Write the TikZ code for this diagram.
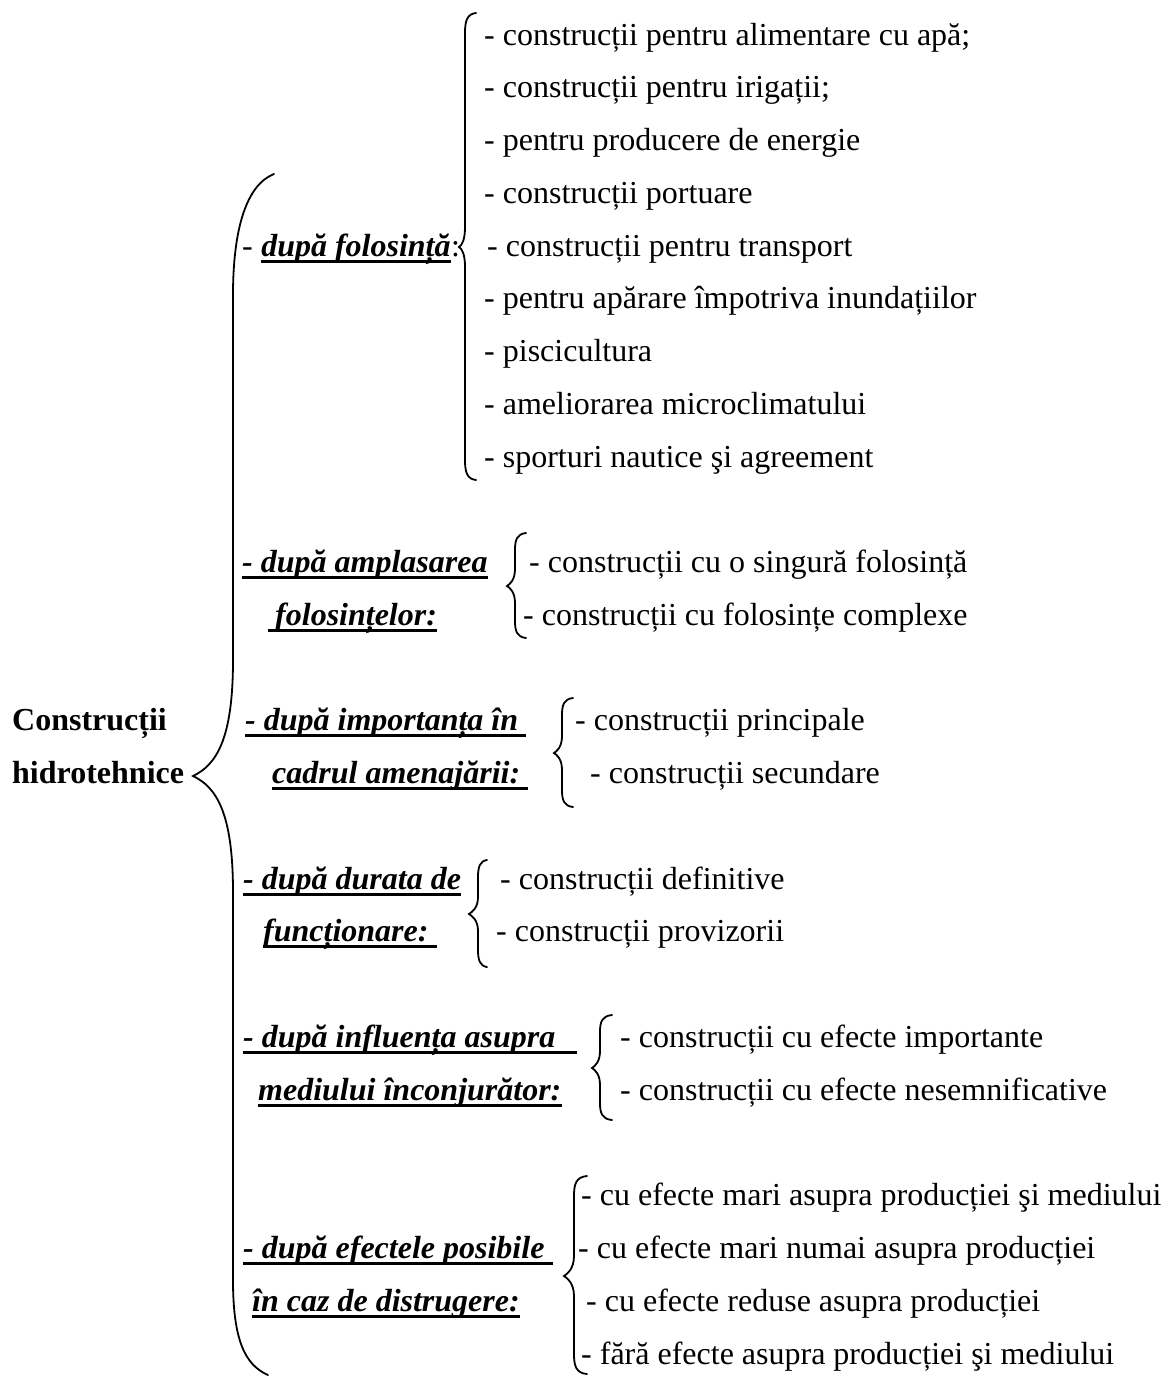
\documentclass[tikz,border=0pt]{standalone}
\usepackage{fontspec}
\setmainfont{Liberation Serif}
\newcommand\drawbrace[7]{% xv, xtip, xend, ytop, ymid, ybot, r
 \draw[brc] ({#3},{#4}) .. controls ({#1+2},{#4+1}) and ({#1},{#4+0.4*#7}) .. ({#1},{#4+#7})
   -- ({#1},{#5-#7}) .. controls ({#1},{#5-0.35*#7}) and ({#2+3},{#5-2}) .. ({#2},{#5})
   .. controls ({#2+3},{#5+2}) and ({#1},{#5+0.35*#7}) .. ({#1},{#5+#7})
   -- ({#1},{#6-#7}) .. controls ({#1},{#6-0.4*#7}) and ({#1+2},{#6-1}) .. ({#3},{#6});}
\newcommand\ulnode[1]{\draw[ul] ([yshift=-5pt]#1.base west) -- ([yshift=-5pt]#1.base east);}
\begin{document}
\begin{tikzpicture}[x=1pt,y=-1pt,
  txt/.style={anchor=base west,inner sep=0pt,font=\fontsize{32}{38}\selectfont},
  lab/.style={anchor=base west,inner sep=0pt,font=\fontsize{32}{38}\selectfont\bfseries\itshape},
  ttl/.style={anchor=base west,inner sep=0pt,font=\fontsize{32}{38}\selectfont\bfseries},
  brc/.style={line width=1.8pt,line cap=round},
  ul/.style={line width=3pt}]
\fill[white] (0,0) rectangle (1171,1376);
\useasboundingbox (0,0) rectangle (1171,1376);

% title
\node[ttl] (t1) at (12,730.9) {Construcții};
\node[ttl] (t2) at (12,783.6) {hidrotehnice};

% big brace
\draw[brc] (274,174) .. controls (246,185) and (233,230) .. (233,295)
  -- (233,660) .. controls (233,740) and (216,765) .. (193,776)
  .. controls (216,787) and (233,812) .. (233,892)
  -- (233,1280) .. controls (233,1340) and (245,1365) .. (268,1375);

% section 1
\node[txt] (l1d) at (242,256) {-\kern8pt};
\node[lab] (l1) at (l1d.base east) {după folosință};
\node[txt] (l1c) at (l1.base east) {:};
\ulnode{l1}
\drawbrace{465}{459}{476}{13}{247}{480}{20}
\node[txt] (u1) at (484,45) {- construcții pentru alimentare cu apă;};
\node[txt] (u2) at (484,97.8) {- construcții pentru irigații;};
\node[txt] (u3) at (484,150.5) {- pentru producere de energie};
\node[txt] (u4) at (484,203.3) {- construcții portuare};
\node[txt] (u5) at (487,256) {- construcții pentru transport};
\node[txt] (u6) at (484,308.8) {- pentru apărare împotriva inundațiilor};
\node[txt] (u7) at (484,361.6) {- piscicultura};
\node[txt] (u8) at (484,414.3) {- ameliorarea microclimatului};
\node[txt] (u9) at (484,467.1) {- sporturi nautice şi agreement};

% section 2
\node[lab] (l2a) at (242,572.6) {- după amplasarea};
\node[lab] (l2b) at (268,625.4) {\kern7pt folosințelor:};
\ulnode{l2a}\ulnode{l2b}
\drawbrace{515}{507}{526}{533}{586}{638}{17}
\node[txt] (a1) at (529,572.6) {- construcții cu o singură folosință};
\node[txt] (a2) at (523,625.4) {- construcții cu folosințe complexe};

% section 3
\node[lab] (l3a) at (245,730.9) {- după importanța în\kern8pt};
\node[lab] (l3b) at (272,783.6) {cadrul amenajării:\kern8pt};
\ulnode{l3a}\ulnode{l3b}
\drawbrace{562}{554}{573}{698}{753}{807}{17}
\node[txt] (i1) at (575,730.9) {- construcții principale};
\node[txt] (i2) at (590,783.6) {- construcții secundare};

% section 4
\node[lab] (l4a) at (243,889.2) {- după durata de};
\node[lab] (l4b) at (263,941.9) {funcționare:\kern8pt};
\ulnode{l4a}\ulnode{l4b}
\drawbrace{478}{469}{487}{860}{914}{967}{17}
\node[txt] (d1) at (500,889.2) {- construcții definitive};
\node[txt] (d2) at (496,941.9) {- construcții provizorii};

% section 5
\node[lab] (l5a) at (243,1047.4) {- după influența asupra\kern22pt};
\node[lab] (l5b) at (258,1100.2) {mediului înconjurător:};
\ulnode{l5a}\ulnode{l5b}
\drawbrace{600}{592}{612}{1015}{1068}{1120}{17}
\node[txt] (n1) at (620,1047.4) {- construcții cu efecte importante};
\node[txt] (n2) at (620,1100.2) {- construcții cu efecte nesemnificative};

% section 6
\node[lab] (l6a) at (243,1258.5) {- după efectele posibile\kern8pt};
\node[lab] (l6b) at (252,1311.2) {în caz de distrugere:};
\ulnode{l6a}\ulnode{l6b}
\drawbrace{574}{564}{587}{1176}{1276}{1374}{20}
\node[txt] (e1) at (581,1205.7) {- cu efecte mari asupra producției şi mediului};
\node[txt] (e2) at (578,1258.5) {- cu efecte mari numai asupra producției};
\node[txt] (e3) at (586,1311.2) {- cu efecte reduse asupra producției};
\node[txt] (e4) at (581,1364) {- fără efecte asupra producției şi mediului};
\end{tikzpicture}
\end{document}
